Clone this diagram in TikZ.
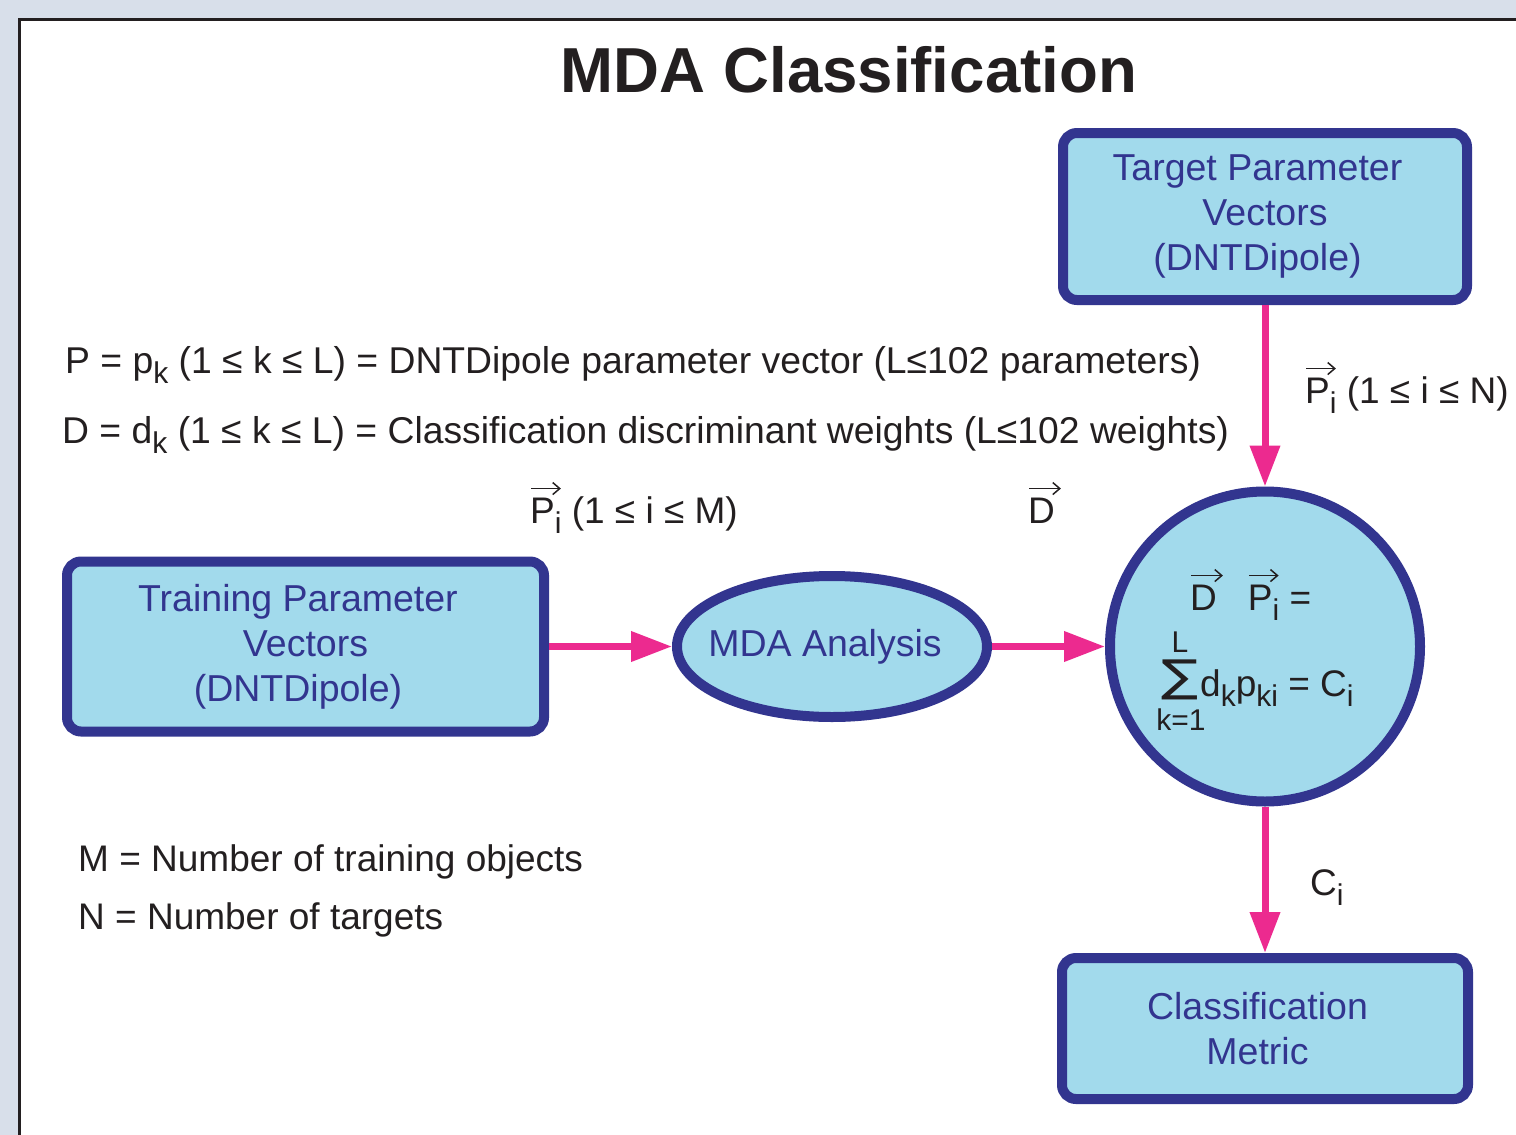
\documentclass[tikz,border=0pt]{standalone}
\usepackage{fontspec}
\setmainfont{Liberation Sans}
\newfontfamily\symfont{DejaVu Sans}
\usetikzlibrary{arrows.meta,shapes.geometric}

\definecolor{pagebg}{HTML}{D8DFEA}
\definecolor{frameline}{HTML}{231F20}
\definecolor{boxfill}{HTML}{A2DAEC}
\definecolor{boxline}{HTML}{32358F}
\definecolor{flowpink}{HTML}{EC2A8F}
\definecolor{ink}{HTML}{231F20}

% lowered subscript in the running sans font
\newcommand\lsub[1]{\raisebox{-10pt}{\fontsize{30}{30}\selectfont #1}}
% letter with a vector arrow above it (arrow does not take up width)
\newcommand\ovec[1]{\tikz[baseline=(vv.base)]{%
  \node[inner sep=0pt,outer sep=0pt] (vv) {#1};
  \draw[overlay,draw=ink,line width=1.5pt,-{Straight Barb[length=7pt,width=12pt]}]
    ([xshift=1pt,yshift=9pt]vv.north west) -- ([xshift=6pt,yshift=9pt]vv.north east);}}
% one line of block text, set a little left of the block centre
\newcommand\bl[1]{#1\hspace*{15pt}}

\begin{document}
\begin{tikzpicture}[x=1pt,y=-1pt,
  procbox/.style={rectangle,draw=boxline,line width=10pt,fill=boxfill,
    rounded corners=14pt,text=boxline,font=\fontsize{37.5}{45}\selectfont,
    align=center,inner sep=0pt},
  procoval/.style={ellipse,draw=boxline,line width=10pt,fill=boxfill,inner sep=0pt},
  proccircle/.style={circle,draw=boxline,line width=10pt,fill=boxfill,inner sep=0pt},
  blocktext/.style={text=boxline,inner sep=0pt,font=\fontsize{37.5}{45}\selectfont},
  flow/.style={draw=flowpink,line width=7pt,-{Triangle[length=41pt,width=29pt]}},
  lbl/.style={text=ink,inner sep=0pt,font=\fontsize{37}{45}\selectfont},
  deflbl/.style={text=ink,inner sep=0pt,font=\fontsize{37.3}{45}\selectfont},
  smalllbl/.style={text=ink,inner sep=0pt,font=\fontsize{30}{30}\selectfont}]

\useasboundingbox (0,0) rectangle (1516,1135);
\fill[pagebg] (0,0) rectangle (1516,1135);
\fill[white] (19.5,19.5) rectangle (1530,1150);
\draw[frameline,line width=3pt] (19.5,1150) -- (19.5,19.5) -- (1530,19.5);

% title
\node[text=ink,inner sep=0pt,font=\fontsize{63.6}{64}\selectfont\bfseries,anchor=base]
  (title) at (849,92) {MDA Classification};

% process blocks
\node[procbox,minimum width=404pt,minimum height=167pt] (target) at (1265,216.5)
  {\bl{Target Parameter}\\\bl{Vectors}\\\bl{(DNTDipole)}};
\node[procbox,minimum width=477pt,minimum height=170pt] (train) at (305.5,646.5)
  {\bl{Training Parameter}\\\bl{Vectors}\\\bl{(DNTDipole)}};
\node[procoval,minimum width=310pt,minimum height=141pt] (mda) at (832,646.5) {};
\node[blocktext] (mdatext) at (825,646.5) {MDA Analysis};
\node[proccircle,minimum size=310pt] (score) at (1265,646.5) {};
\node[procbox,minimum width=406pt,minimum height=141pt] (metric) at (1265,1028.5)
  {\bl{Classification}\\\bl{Metric}};

% flow arrows
\draw[flow] (target.south) -- (score.north);
\draw[flow] (train.east) -- (mda.west);
\draw[flow] (mda.east) -- (score.west);
\draw[flow] (score.south) -- (metric.north);

% discriminant product inside the circle
\node[lbl,anchor=base west] (dotprod) at (1190,610) {\ovec{D}\hspace{31pt}\ovec{P}\lsub{i} =};
\node[lbl,anchor=base west] (sumterm) at (1200,696) {d\lsub{k}p\lsub{ki} = C\lsub{i}};
\node[text=ink,inner sep=0pt,font=\fontsize{44}{44}\selectfont\symfont,anchor=base] (sigma) at (1180.5,691) {\scalebox{1.25}[1]{∑}};
\node[smalllbl,anchor=base] (upper) at (1180,652) {L};
\node[smalllbl,anchor=base] (lower) at (1181,730) {k=1};

% definitions and flow labels
\node[deflbl,anchor=base west] (pdef) at (65,373)
  {P = p\lsub{k} (1 ≤ k ≤ L) = DNTDipole parameter vector (L≤102 parameters)};
\node[deflbl,anchor=base west] (ddef) at (62,443)
  {D = d\lsub{k} (1 ≤ k ≤ L) = Classification discriminant weights (L≤102 weights)};
\node[lbl,anchor=base west] (mdef) at (78,871) {M = Number of training objects};
\node[lbl,anchor=base west] (ndef) at (78,929) {N = Number of targets};
\node[lbl,anchor=base west] (ptarget) at (1305,403) {\ovec{P}\lsub{i} (1 ≤ i ≤ N)};
\node[lbl,anchor=base west] (ptrain) at (530,523) {\ovec{P}\lsub{i} (1 ≤ i ≤ M)};
\node[lbl,anchor=base west] (dweights) at (1028,523) {\ovec{D}};
\node[lbl,anchor=base west] (cout) at (1310,895) {C\lsub{i}};

\end{tikzpicture}
\end{document}
